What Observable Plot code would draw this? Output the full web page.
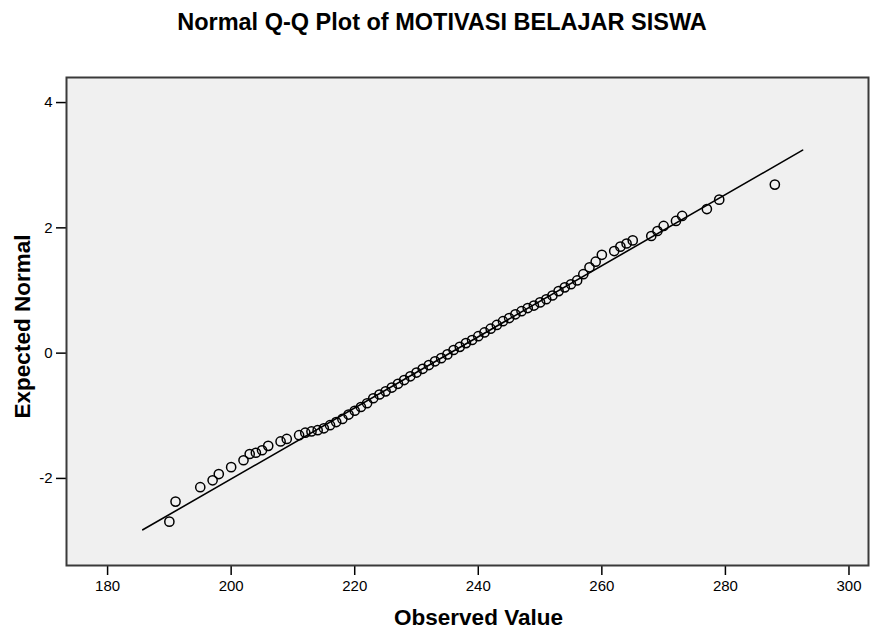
<!DOCTYPE html>
<html>
<head>
<meta charset="utf-8">
<script src="https://cdn.jsdelivr.net/npm/d3@7"></script>
<script src="https://cdn.jsdelivr.net/npm/@observablehq/plot@0.6"></script>
<style>
  html, body { margin: 0; padding: 0; background: #fff; }
  #wrap { width: 884px; height: 630px; font-family: "Liberation Sans", Arial, sans-serif; }
  #title { height: 50px; box-sizing: border-box; padding-top: 8px; text-align: center;
           font-weight: bold; font-size: 23.5px; line-height: 28px; color: #000; white-space: nowrap; }
  svg [aria-label="x-axis tick"], svg [aria-label="y-axis tick"] { stroke-width: 1.5; }
</style>
</head>
<body>
<div id="wrap">
  <div id="title">Normal Q-Q Plot of MOTIVASI BELAJAR SISWA</div>
  <div id="chart"></div>
</div>
<script>
// Observed values (x) and their expected normal scores (y)
const observed = [
  190, 191, 195, 197, 198, 200, 202, 203, 204, 205, 206, 208, 209, 211, 212, 213, 214, 215, 216, 217, 218, 219, 220,
  221, 222, 223, 224, 225, 226, 227, 228, 229, 230, 231, 232, 233, 234, 235, 236, 237, 238, 239, 240,
  241, 242, 243, 244, 245, 246, 247, 248, 249, 250, 251, 252, 253, 254, 255, 256, 257, 258, 259, 260,
  262, 263, 264, 265, 268, 269, 270, 272, 273, 277, 279, 288
];
const expectedNormal = [
  -2.69, -2.37, -2.14, -2.03, -1.93, -1.82, -1.71, -1.61, -1.59, -1.55, -1.48, -1.41, -1.37, -1.31, -1.27, -1.25, -1.23, -1.20, -1.15, -1.10, -1.05, -0.98, -0.92,
  -0.86, -0.80, -0.72, -0.66, -0.61, -0.55, -0.49, -0.43, -0.37, -0.31, -0.25, -0.19, -0.13, -0.08, -0.02, 0.05, 0.10, 0.16, 0.21, 0.27,
  0.33, 0.39, 0.45, 0.51, 0.56, 0.62, 0.67, 0.72, 0.76, 0.81, 0.86, 0.92, 0.99, 1.05, 1.10, 1.16, 1.26, 1.37, 1.46, 1.57,
  1.63, 1.70, 1.75, 1.80, 1.87, 1.95, 2.03, 2.11, 2.19, 2.30, 2.45, 2.69
];
// Reference line endpoints
const lineX = [185.7, 292.5];
const lineY = [-2.82, 3.24];
// Axis ticks and labels
const xTicks = [180, 200, 220, 240, 260, 280, 300];
const yTicks = [-2, 0, 2, 4];
const xLabel = "Observed Value";
const yLabel = "Expected Normal";

const points = observed.map((v, i) => ({x: v, y: expectedNormal[i]}));
const refLine = lineX.map((v, i) => ({x: v, y: lineY[i]}));

const chart = Plot.plot({
  width: 884,
  height: 580,
  marginTop: 27,
  marginBottom: 65,
  marginLeft: 66,
  marginRight: 16,
  style: {fontFamily: '"Liberation Sans", Arial, sans-serif', fontSize: "15px", color: "#000", background: "#fff", overflow: "visible"},
  x: {domain: [173.35, 303.16], ticks: xTicks, tickSize: 10, tickPadding: 5, tickFormat: d => String(d), label: null},
  y: {domain: [-3.39, 4.40], ticks: yTicks, tickSize: 10, tickPadding: 4, tickFormat: d => String(d), label: null},
  marks: [
    Plot.frame({fill: "#f0f0f0", stroke: "none"}),
    Plot.line(refLine, {x: "x", y: "y", stroke: "#000", strokeWidth: 1.6}),
    Plot.dot(points, {x: "x", y: "y", r: 4.6, stroke: "#000", strokeWidth: 1.5, fill: "none"}),
    Plot.frame({stroke: "#3a3a3a", strokeWidth: 2}),
    Plot.text([xLabel], {frameAnchor: "bottom", textAnchor: "middle", lineAnchor: "middle", dx: 11, dy: 52, fontWeight: "bold", fontSize: 22.5, fill: "#000"}),
    Plot.text([yLabel], {frameAnchor: "left", textAnchor: "middle", lineAnchor: "middle", rotate: -90, dx: -44, dy: 5, fontWeight: "bold", fontSize: 22.5, fill: "#000"})
  ]
});
document.getElementById("chart").appendChild(chart);
</script>
</body>
</html>
